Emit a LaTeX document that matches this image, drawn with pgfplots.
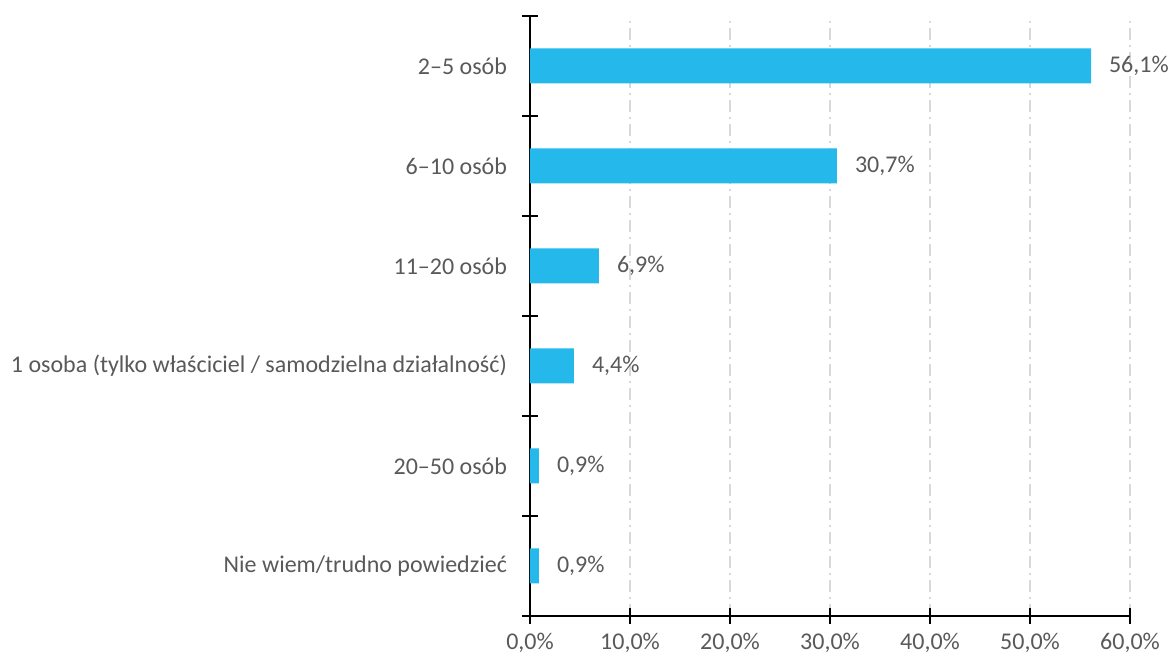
\documentclass[border=0pt]{standalone}
\usepackage{fontspec}
\setmainfont{Carlito}
\usepackage{pgfplots}
\pgfplotsset{compat=1.18}
\definecolor{barblue}{HTML}{25B8EB}
\definecolor{txtgray}{HTML}{595959}
\definecolor{gridgray}{HTML}{D9D9D9}
\begin{document}
\begin{tikzpicture}
\useasboundingbox (0,0) rectangle (584.5pt,328.5pt);
\begin{axis}[
  at={(265pt,20.5pt)}, anchor=south west,
  scale only axis,
  width=300pt, height=300pt,
  font=\fontsize{12pt}{14pt}\selectfont,
  xbar, bar width=17.5pt,
  xmin=0, xmax=60,
  ymin=-0.5, ymax=5.5,
  axis x line*=bottom, axis y line*=left,
  axis line style={black, line width=0.75pt, -},
  xtick={0,10,...,60},
  xticklabels={{0,0\%},{10,0\%},{20,0\%},{30,0\%},{40,0\%},{50,0\%},{60,0\%}},
  ytick={0,...,5},
  yticklabels={Nie wiem/trudno powiedzieć, 20–50 osób,
    1 osoba (tylko właściciel / samodzielna działalność),
    11–20 osób, 6–10 osób, 2–5 osób},
  minor ytick={-0.5,0.5,...,5.5},
  tick align=center,
  major tick length=8pt, minor tick length=8pt,
  major y tick style={draw=none},
  minor y tick style={black, line width=0.75pt},
  x tick style={black, line width=0.75pt},
  xmajorgrids,
  major x grid style={gridgray, line width=0.75pt, dash pattern=on 6pt off 2.5pt on 1pt off 2.5pt},
  ticklabel style={text=txtgray},
  yticklabel style={xshift=-4pt},
  xticklabel style={yshift=-1pt},
  /pgf/number format/assume math mode=true,
  nodes near coords,
  nodes near coords style={text=txtgray, anchor=west, xshift=5.5pt,
    /pgf/number format/.cd, fixed, fixed zerofill, precision=1, use comma},
  point meta=explicit,
  nodes near coords={\pgfmathprintnumber{\pgfplotspointmeta}\%},
]
\addplot[fill=barblue, draw=none] coordinates {
  (0.9,0) [0.9]
  (0.9,1) [0.9]
  (4.4,2) [4.4]
  (6.9,3) [6.9]
  (30.7,4) [30.7]
  (56.1,5) [56.1]
};
\end{axis}
\end{tikzpicture}
\end{document}
